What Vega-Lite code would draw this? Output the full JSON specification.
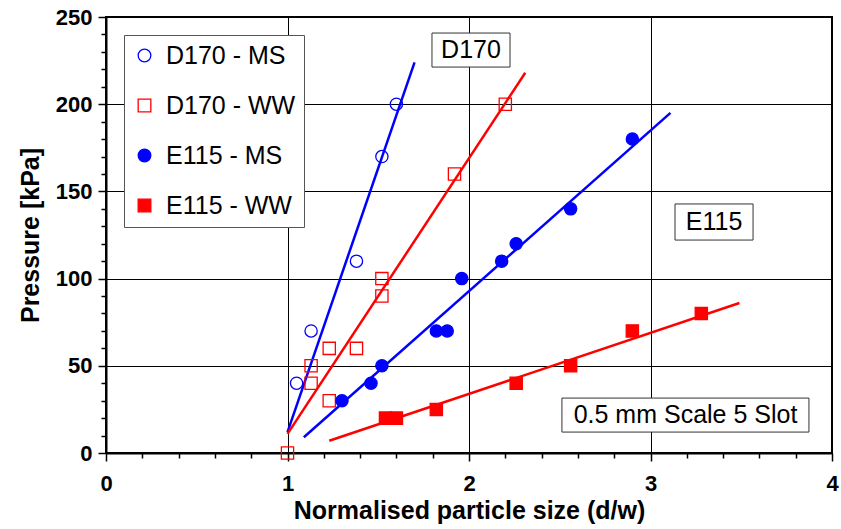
{
  "$schema": "https://vega.github.io/schema/vega-lite/v6.json",
  "width": 726,
  "height": 436,
  "autosize": {"type": "none"},
  "padding": {"left": 106, "top": 17, "right": 9, "bottom": 76},
  "background": "white",
  "config": {
    "font": "Liberation Sans",
    "view": {"stroke": "black", "strokeWidth": 2},
    "legend": {
      "orient": "none",
      "legendX": 18,
      "legendY": 18,
      "padding": 8,
      "fillColor": "white",
      "strokeColor": "#555555",
      "strokeWidth": 1,
      "labelFont": "Liberation Sans",
      "labelFontSize": 25,
      "labelColor": "black",
      "labelLimit": 400,
      "symbolSize": 160,
      "symbolStrokeWidth": 1.3,
      "rowPadding": 24,
      "labelOffset": 9,
      "titleFontSize": 0
    }
  },
  "datasets": {
    "pts": [
      {"series": "D170 - MS", "d": 1.05, "p": 40},
      {"series": "D170 - MS", "d": 1.13, "p": 70},
      {"series": "D170 - MS", "d": 1.38, "p": 110},
      {"series": "D170 - MS", "d": 1.52, "p": 170},
      {"series": "D170 - MS", "d": 1.6, "p": 200},
      {"series": "D170 - WW", "d": 1.0, "p": 0},
      {"series": "D170 - WW", "d": 1.13, "p": 50},
      {"series": "D170 - WW", "d": 1.13, "p": 40},
      {"series": "D170 - WW", "d": 1.23, "p": 60},
      {"series": "D170 - WW", "d": 1.23, "p": 30},
      {"series": "D170 - WW", "d": 1.38, "p": 60},
      {"series": "D170 - WW", "d": 1.52, "p": 100},
      {"series": "D170 - WW", "d": 1.52, "p": 90},
      {"series": "D170 - WW", "d": 1.92, "p": 160},
      {"series": "D170 - WW", "d": 2.2, "p": 200},
      {"series": "E115 - MS", "d": 1.3, "p": 30},
      {"series": "E115 - MS", "d": 1.46, "p": 40},
      {"series": "E115 - MS", "d": 1.52, "p": 50},
      {"series": "E115 - MS", "d": 1.82, "p": 70},
      {"series": "E115 - MS", "d": 1.88, "p": 70},
      {"series": "E115 - MS", "d": 1.96, "p": 100},
      {"series": "E115 - MS", "d": 2.18, "p": 110},
      {"series": "E115 - MS", "d": 2.26, "p": 120},
      {"series": "E115 - MS", "d": 2.56, "p": 140},
      {"series": "E115 - MS", "d": 2.9, "p": 180},
      {"series": "E115 - WW", "d": 1.54, "p": 20},
      {"series": "E115 - WW", "d": 1.6, "p": 20},
      {"series": "E115 - WW", "d": 1.82, "p": 25},
      {"series": "E115 - WW", "d": 2.26, "p": 40},
      {"series": "E115 - WW", "d": 2.56, "p": 50},
      {"series": "E115 - WW", "d": 2.9, "p": 70},
      {"series": "E115 - WW", "d": 3.28, "p": 80}
    ],
    "fits": [
      {"series": "D170 - MS", "d": 1.0, "p": 12},
      {"series": "D170 - MS", "d": 1.7, "p": 224},
      {"series": "D170 - WW", "d": 1.0, "p": 11},
      {"series": "D170 - WW", "d": 2.31, "p": 218},
      {"series": "E115 - MS", "d": 1.09, "p": 9},
      {"series": "E115 - MS", "d": 3.11, "p": 195},
      {"series": "E115 - WW", "d": 1.23, "p": 7},
      {"series": "E115 - WW", "d": 3.49, "p": 86}
    ],
    "notes": [
      {"label": "D170", "x1": 1.796, "x2": 2.226, "y1": 221.3, "y2": 240.8, "xc": 2.011, "yc": 231},
      {"label": "E115", "x1": 3.135, "x2": 3.565, "y1": 122.1, "y2": 142.8, "xc": 3.35, "yc": 132.4},
      {"label": "0.5 mm Scale 5 Slot", "x1": 2.512, "x2": 3.873, "y1": 12.0, "y2": 31.5, "xc": 3.193, "yc": 21.8}
    ]
  },
  "encoding": {
    "x": {
      "type": "quantitative",
      "scale": {"domain": [0, 4], "nice": false, "zero": false},
      "axis": {
        "title": "Normalised particle size (d/w)",
        "values": [0, 0.2, 0.4, 0.6, 0.8, 1, 1.2, 1.4, 1.6, 1.8, 2, 2.2, 2.4, 2.6, 2.8, 3, 3.2, 3.4, 3.6, 3.8, 4],
        "format": ".0f",
        "labelExpr": "datum.value % 1 === 0 ? datum.label : ''",
        "labelFlush": false,
        "labelOverlap": false,
        "labelBound": false,
        "labelFont": "Liberation Sans",
        "labelFontSize": 22,
        "labelFontWeight": "bold",
        "labelColor": "black",
        "labelPadding": 12,
        "tickColor": "black",
        "tickWidth": 1.5,
        "tickSize": {"condition": {"test": "datum.value % 1 === 0", "value": 8}, "value": 5},
        "domainColor": "black",
        "domainWidth": 2,
        "grid": true,
        "gridColor": "black",
        "gridWidth": 1,
        "gridOpacity": {"condition": {"test": "datum.value % 1 === 0", "value": 1}, "value": 0},
        "titleFont": "Liberation Sans",
        "titleFontSize": 25,
        "titleFontWeight": "bold",
        "titleColor": "black",
        "titlePadding": 4
      }
    },
    "y": {
      "type": "quantitative",
      "scale": {"domain": [0, 250], "nice": false},
      "axis": {
        "title": "Pressure [kPa]",
        "values": [0, 10, 20, 30, 40, 50, 60, 70, 80, 90, 100, 110, 120, 130, 140, 150, 160, 170, 180, 190, 200, 210, 220, 230, 240, 250],
        "labelExpr": "datum.value % 50 === 0 ? datum.label : ''",
        "labelOverlap": false,
        "labelFlush": false,
        "labelBound": false,
        "labelFont": "Liberation Sans",
        "labelFontSize": 22,
        "labelFontWeight": "bold",
        "labelColor": "black",
        "labelPadding": 6,
        "tickColor": "black",
        "tickWidth": 1.5,
        "tickSize": {"condition": {"test": "datum.value % 50 === 0", "value": 8}, "value": 5},
        "domainColor": "black",
        "domainWidth": 2,
        "grid": true,
        "gridColor": "black",
        "gridWidth": 1,
        "gridOpacity": {"condition": {"test": "datum.value % 50 === 0", "value": 1}, "value": 0},
        "titleFont": "Liberation Sans",
        "titleFontSize": 25,
        "titleFontWeight": "bold",
        "titleColor": "black",
        "titlePadding": 12
      }
    }
  },
  "layer": [
    {
      "data": {"name": "fits"},
      "mark": {"type": "line", "strokeWidth": 2.5},
      "encoding": {
        "x": {"field": "d", "type": "quantitative"},
        "y": {"field": "p", "type": "quantitative"},
        "detail": {"field": "series", "type": "nominal"},
        "color": {"condition": {"test": "indexof(datum.series, 'MS') >= 0", "value": "#0000ff"}, "value": "#ff0000"}
      }
    },
    {
      "data": {"name": "pts"},
      "mark": {"type": "point", "size": 150, "strokeWidth": 1.3, "opacity": 1},
      "encoding": {
        "x": {"field": "d", "type": "quantitative"},
        "y": {"field": "p", "type": "quantitative"},
        "shape": {"field": "series", "type": "nominal", "scale": {"domain": ["D170 - MS", "D170 - WW", "E115 - MS", "E115 - WW"], "range": ["circle", "square", "circle", "square"]}, "title": null, "legend": {"labelExpr": "datum.label + '\u00a0\u00a0\u00a0'"}},
        "stroke": {"field": "series", "type": "nominal", "scale": {"domain": ["D170 - MS", "D170 - WW", "E115 - MS", "E115 - WW"], "range": ["#0000ff", "#ff0000", "#0000ff", "#ff0000"]}, "title": null, "legend": {"labelExpr": "datum.label + '\u00a0\u00a0\u00a0'"}},
        "fill": {"field": "series", "type": "nominal", "scale": {"domain": ["D170 - MS", "D170 - WW", "E115 - MS", "E115 - WW"], "range": ["transparent", "transparent", "#0000ff", "#ff0000"]}, "title": null, "legend": {"labelExpr": "datum.label + '\u00a0\u00a0\u00a0'"}}
      }
    },
    {
      "data": {"name": "notes"},
      "mark": {"type": "rect", "fill": "white", "stroke": "#333333", "strokeWidth": 1},
      "encoding": {
        "x": {"field": "x1", "type": "quantitative"},
        "x2": {"field": "x2"},
        "y": {"field": "y1", "type": "quantitative"},
        "y2": {"field": "y2"}
      }
    },
    {
      "data": {"name": "notes"},
      "mark": {"type": "text", "font": "Liberation Sans", "fontSize": 25, "color": "black", "align": "center", "baseline": "middle"},
      "encoding": {
        "x": {"field": "xc", "type": "quantitative"},
        "y": {"field": "yc", "type": "quantitative"},
        "text": {"field": "label"}
      }
    }
  ]
}
